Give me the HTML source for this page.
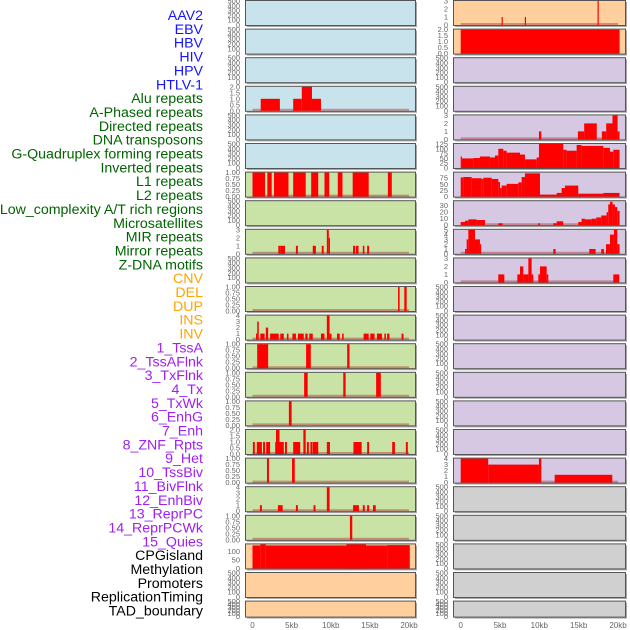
<!DOCTYPE html>
<html><head><meta charset="utf-8"><style>
body{margin:0;background:#fff;width:630px;height:630px;overflow:hidden}
svg{position:absolute;left:0;top:0}
.lab{font-family:"Liberation Sans",sans-serif;font-size:14.2px}
.tk{font-family:"Liberation Sans",sans-serif;font-size:7.5px;fill:#666}
.xt{font-family:"Liberation Sans",sans-serif;font-size:8px;fill:#666}
</style></head><body>
<svg id="chart" width="630" height="630"></svg>
<script>
// ---- labels ----
const trackLabels=["AAV2","EBV","HBV","HIV","HPV","HTLV-1","Alu repeats","A-Phased repeats","Directed repeats","DNA transposons","G-Quadruplex forming repeats","Inverted repeats","L1 repeats","L2 repeats","Low_complexity A/T rich regions","Microsatellites","MIR repeats","Mirror repeats","Z-DNA motifs","CNV","DEL","DUP","INS","INV","1_TssA","2_TssAFlnk","3_TxFlnk","4_Tx","5_TxWk","6_EnhG","7_Enh","8_ZNF_Rpts","9_Het","10_TssBiv","11_BivFlnk","12_EnhBiv","13_ReprPC","14_ReprPCWk","15_Quies","CPGisland","Methylation","Promoters","ReplicationTiming","TAD_boundary"];
const labelGroups=["virus","virus","virus","virus","virus","virus","rep","rep","rep","rep","rep","rep","rep","rep","rep","rep","rep","rep","rep","sv","sv","sv","sv","sv","chr","chr","chr","chr","chr","chr","chr","chr","chr","chr","chr","chr","chr","chr","chr","oth","oth","oth","oth","oth"];
const xTickLabels=["0","5kb","10kb","15kb","20kb"];
const xTickValues=[0,5,10,15,20];
// ---- panel data: segments [startKb,endKb,value] ----
const T500=["0","100","200","300","400","500"];
const T1=["0.00","0.25","0.50","0.75","1.00"];
const T2=["0.0","0.5","1.0","1.5","2.0"];
const T3=["0","1","2","3"];
const T4=["0","1","2","3","4"];
const leftBg=["b","b","b","b","b","b","g","g","g","g","g","g","g","g","g","g","g","g","g","o","o","o"];
const leftMax=[500,500,500,2,500,500,1,500,3,500,1,4,1,1,1,2,1,4,1,140,500,500];
const leftTicks=[T500,T500,T500,T2,T500,T500,T1,T500,T3,T500,T1,T4,T1,T1,T1,T2,T1,T4,T1,["0","50","100"],T500,T500];
const L3=[[1.05,3.5,1],[5.2,6.3,1],[6.3,7.6,2],[7.6,8.75,1]];
const L6=[[0,1.6,1],[1.9,2.45,1],[2.75,4.6,1],[5.2,6.8,1],[7.5,8.4,1],[9.2,9.8,1],[10.9,11.5,1],[12.8,14.85,1],[17.3,17.8,1]];
const L8=[[3.3,3.6,1],[3.6,4.15,1],[5.55,5.8,1],[7.7,8.1,1],[8.85,9.1,1],[9.5,9.75,3],[9.75,9.9,2],[12.85,13.1,1],[13.2,13.55,1],[14.1,14.3,1],[14.65,14.9,1]];
const L10=[[18.6,18.8,1],[19.4,19.7,1]];
const L11=[[0.45,0.6,1],[0.6,0.8,3],[1.0,1.55,1],[1.7,2.0,2],[2.25,3.35,1],[3.55,4.0,1],[4.4,4.6,1],[5.1,5.55,1],[5.8,6.55,1],[6.75,7.05,1],[7.25,7.7,1],[8.75,9.2,1],[9.5,9.85,4],[9.85,10.1,1],[10.8,11.15,1],[11.45,11.65,1],[14.2,14.85,1],[15.05,15.6,1],[15.9,16.55,1],[16.85,17.05,1],[17.2,17.5,1],[19.05,19.3,1]];
const L12=[[0.6,2.0,1],[6.85,7.45,1],[12.1,12.4,1]];
const L13=[[6.6,7.05,1],[11.6,11.9,1],[15.8,16.4,1]];
const L14=[[4.65,5.0,1]];
const L15=[[0.05,0.3,1],[0.55,1.2,1],[1.35,1.6,1],[1.75,2.25,1],[2.9,3.0,1],[3.0,3.45,2],[3.45,4.0,1],[4.15,4.4,1],[5.2,6.1,1],[6.5,6.8,2],[6.95,7.2,1],[7.4,7.65,1],[7.7,8.4,1],[9.5,9.9,1],[12.9,13.95,1],[14.65,14.9,1],[17.85,18.2,1],[19.6,19.85,1]];
const L16=[[1.85,2.1,1],[5.05,5.4,1]];
const L17=[[0.95,1.2,1],[3.25,3.85,1],[5.55,5.8,1],[7.8,8.05,1],[9.5,9.85,4],[12.85,13.6,1],[14.1,14.35,1],[14.65,14.9,1],[15.4,15.75,1]];
const L18=[[12.45,12.75,1]];
const L19=[[0,1.0,134],[1.0,1.7,140],[1.7,17.2,134],[17.2,20.1,136],[12.0,14.5,140]];
const leftSegs=[[],[],[],L3,[],[],L6,[],L8,[],L10,L11,L12,L13,L14,L15,L16,L17,L18,L19,[],[]];
const rightBg=["o","o","p","p","p","p","p","p","p","p","p","p","p","p","p","p","p","y","y","y","y","y"];
const rightMax=[3,2,500,500,3,125,98,37,5,3,500,500,500,500,500,500,4,500,500,500,500,500];
const rightTicks=[T3,T2,T500,T500,T3,["0","25","50","75","100","125"],["0","25","50","75"],["0","10","20","30"],["0","1","2","3","4","5"],T3,T500,T500,T500,T500,T500,T500,T4,T500,T500,T500,T500,T500];
const R0=[[5.2,5.35,1],[8.15,8.3,1],[17.4,17.55,3]];
const R1=[[0,20.2,2]];
const R4=[[9.95,10.25,1],[14.9,15.7,1],[15.7,17.3,2],[17.95,18.5,1],[18.5,19.3,2],[19.3,19.95,3],[19.95,20.2,1]];
const R5=[[0,0.12,60],[0.12,1.61,50],[1.61,2.45,52],[2.45,3.72,60],[3.72,4.36,55],[4.36,4.78,65],[4.78,5.42,100],[5.42,5.84,90],[5.84,7.54,80],[7.54,8.17,70],[8.17,9.66,45],[9.66,9.95,55],[9.95,13.04,125],[13.04,13.47,95],[13.47,14.74,90],[14.74,15.37,120],[15.37,18.13,115],[18.13,18.98,105],[18.98,19.4,85],[19.4,20.2,95]];
const R6=[[0,0.33,78],[0.33,1.39,80],[1.39,2.67,75],[2.67,2.88,72],[2.88,3.94,77],[3.94,4.78,72],[4.78,5.0,60],[5.0,5.21,35],[5.21,5.84,45],[5.84,7.32,52],[7.32,7.75,58],[7.75,8.17,80],[8.17,10.08,95],[10.08,12.2,8],[12.2,12.83,15],[12.83,13.26,35],[13.26,14.95,45],[14.95,18.13,12],[18.13,20.2,15]];
const R7=[[0,0.55,5],[0.55,0.97,7],[0.97,2.03,9],[2.03,3.09,8],[4.78,5.33,3],[9.87,10.08,3],[11.77,12.2,3],[12.2,13.04,6],[14.95,15.37,5],[15.37,15.8,10],[15.8,16.65,9],[16.65,17.24,10],[17.24,17.87,12],[17.87,18.55,15],[18.55,18.76,20],[18.76,18.98,32],[18.98,19.31,36],[19.31,19.61,32],[19.61,19.91,28],[19.91,20.2,22]];
const R8=[[0.55,0.76,1],[0.76,0.97,3],[0.97,1.82,5],[1.82,2.45,3],[2.45,2.58,2],[11.77,12.07,1],[16.35,17.15,1],[17.87,18.21,1],[18.47,18.98,2],[18.98,19.48,4],[19.48,19.91,5],[19.91,20.2,2]];
const R9=[[4.78,5.55,1],[7.2,7.54,1],[7.54,7.96,2],[7.96,8.6,1],[8.6,9.02,3],[9.02,9.23,1],[9.87,10.08,1],[10.08,10.93,2],[10.93,11.14,1],[19.4,20.16,1]];
const R16=[[0,3.5,4],[3.5,9.95,3],[9.95,10.25,4],[11.95,19.28,1.3]];
const rightSegs=[R0,R1,[],[],R4,R5,R6,R7,R8,R9,[],[],[],[],[],[],R16,[],[],[],[],[]];

const NS="http://www.w3.org/2000/svg";
const svg=document.getElementById('chart');
function mk(tag,attrs,parent){const e=document.createElementNS(NS,tag);for(const k in attrs)e.setAttribute(k,attrs[k]);(parent||svg).appendChild(e);return e;}
const bgColors={b:"#c8e3eb",g:"#c9e2a6",o:"#ffd09e",p:"#d6c7e3",y:"#d0d0d0"};
const labColors={virus:"#1414ff",rep:"#006400",sv:"#ffa500",chr:"#a020f0",oth:"#000"};
const cols=[{x0:245.5,x1:415.5,d0:252.5,d1:409,tx:240},{x0:453.5,x1:625.5,d0:460.7,d1:618,tx:448}];
function xScale(c,kb){return c.d0+(c.d1-c.d0)*kb/20;}
function rowTop(i){return 0.5+i*28.6;}
function rowH(i){return i===21?16:25;}
trackLabels.forEach((t,i)=>{
  const e=mk('text',{x:203,y:15+i*13.85+5,'text-anchor':'end',class:'lab',fill:labColors[labelGroups[i]]});
  e.textContent=t;
  
  
});
function drawCol(ci,bgs,maxs,ticks,segs){
  const c=cols[ci];
  for(let i=0;i<22;i++){
    const top=rowTop(i),h=rowH(i),bot=top+h;
    const g=mk('g',{});
    
    
    mk('rect',{x:c.x0+1.5,y:top+1.5,width:c.x1-c.x0,height:h,fill:'#a8a8a8'},g);
    mk('rect',{x:c.x0,y:top,width:c.x1-c.x0,height:h,fill:bgColors[bgs[i]],stroke:'#555','stroke-width':1},g);
    const ymax=maxs[i];
    const ys=v=>bot-0.5-(h-1)*v/ymax;
    ticks[i].forEach(t=>{
      const v=parseFloat(t);
      const te=mk('text',{x:c.tx,y:ys(v)+2.5,'text-anchor':'end',class:'tk'},g);
      te.textContent=t;
      
      
    });
    if(segs[i].length){
      mk('line',{x1:xScale(c,0),x2:xScale(c,20),y1:bot-1.5,y2:bot-1.5,stroke:'rgba(170,50,50,0.45)','stroke-width':2},g);
    }
    segs[i].forEach(s=>{
      const x1=xScale(c,s[0]),x2=xScale(c,s[1]);
      const y=ys(s[2]);
      const r=mk('rect',{x:x1,y:y,width:Math.max(1.2,x2-x1),height:bot-0.5-y,fill:'#ff0000'},g);
      
      
    });
  }
  xTickValues.forEach((v,k)=>{
    const te=mk('text',{x:xScale(c,v),y:628,'text-anchor':'middle',class:'xt'});
    te.textContent=xTickLabels[k];
    
    
  });
}
drawCol(0,leftBg,leftMax,leftTicks,leftSegs);
drawCol(1,rightBg,rightMax,rightTicks,rightSegs);
</script>
</body></html>
